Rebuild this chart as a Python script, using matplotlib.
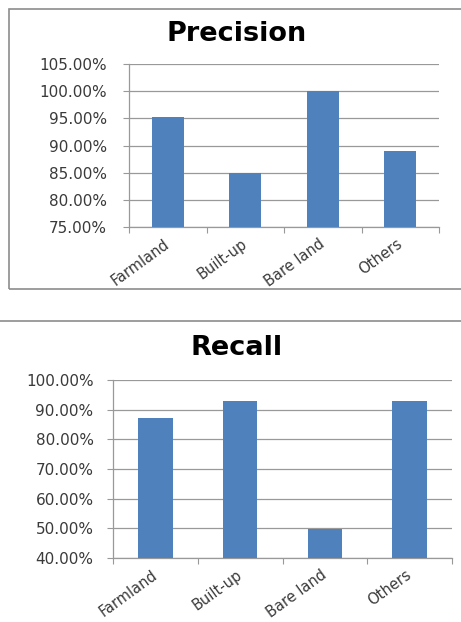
import matplotlib.pyplot as plt
from matplotlib.ticker import FuncFormatter, MultipleLocator
from matplotlib.lines import Line2D
from matplotlib.patches import Rectangle

# class names and values
classes = ["Farmland", "Built-up", "Bare land", "Others"]
precision = [95.2, 85.0, 100.0, 88.9]
recall = [87.1, 93.0, 49.9, 93.0]

bar_color = "#4F81BD"
grid_color = "#999999"
text_color = "#3A3A3A"

fig = plt.figure(figsize=(4.61, 6.22), dpi=100)
W, H = 461, 622


def px_axes(left, right, top, bottom):
    # axes box given in pixel coords of the picture
    return fig.add_axes([left / W, 1 - bottom / H, (right - left) / W, (bottom - top) / H])


def style_axes(ax, values, ymin, ymax, step, title, title_y, ypad):
    x = range(len(classes))
    ax.bar(x, values, width=0.41, color=bar_color, zorder=3)
    ax.set_xlim(-0.5, len(classes) - 0.5)
    ax.set_ylim(ymin, ymax)
    ax.yaxis.set_major_locator(MultipleLocator(step))
    ax.yaxis.set_major_formatter(FuncFormatter(lambda v, p: f"{v:.2f}%"))
    ax.grid(axis="y", color=grid_color, linewidth=0.9, zorder=0)
    for s in ["top", "right"]:
        ax.spines[s].set_visible(False)
    for s in ["left", "bottom"]:
        ax.spines[s].set_color(grid_color)
        ax.spines[s].set_linewidth(0.9)
    ax.tick_params(axis="y", length=4, color=grid_color, labelsize=11, labelcolor=text_color, pad=ypad)
    # x ticks sit on the category borders, labels on the centres
    ax.set_xticks([i - 0.5 for i in range(len(classes) + 1)])
    ax.set_xticklabels([])
    ax.set_xticks(list(x), minor=True)
    ax.set_xticklabels(classes, minor=True, rotation=36, ha="right", va="center",
                       rotation_mode="anchor", fontsize=10.5, color=text_color)
    ax.tick_params(axis="x", which="major", length=4, color=grid_color)
    ax.tick_params(axis="x", which="minor", length=0, pad=11)
    fig.text(237 / W, 1 - title_y / H, title, ha="center", va="center",
             fontsize=19.5, fontweight="bold", color="black")


ax1 = px_axes(129, 439, 64, 227)
style_axes(ax1, precision, 75, 105, 5, "Precision", 34, 12)

ax2 = px_axes(113, 452, 380, 558)
style_axes(ax2, recall, 40, 100, 10, "Recall", 348, 10)

# chart borders like the pasted office charts
fig.patches.append(Rectangle((9 / W, 1 - 289 / H), (W + 5) / W, 280 / H, transform=fig.transFigure,
                             fill=False, edgecolor="#8C8C8C", linewidth=1.2))
fig.lines.append(Line2D([0, 1], [1 - 321 / H, 1 - 321 / H], transform=fig.transFigure,
                        color="#8C8C8C", linewidth=1.2))

fig.savefig("out.png", dpi=100)
